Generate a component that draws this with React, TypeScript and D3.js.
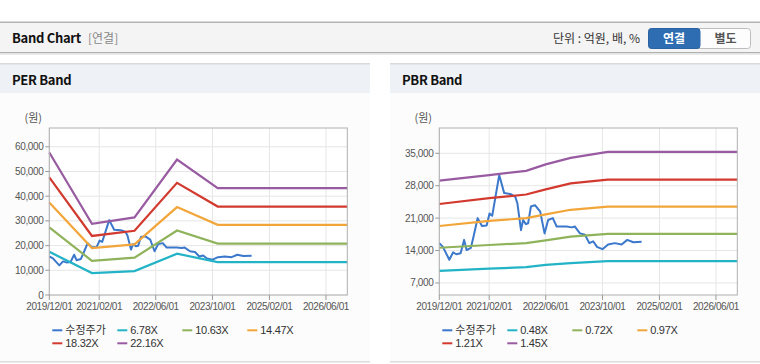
import React from "react";
import * as d3 from "d3";

// ---- data ----
const xTickDates = ["2019-12-01", "2021-02-01", "2022-06-01", "2023-10-01", "2025-02-01", "2026-06-01"];

const priceDates = [
  "2019-12-01", "2020-01-01", "2020-02-25", "2020-03-28", "2020-04-25", "2020-06-01", "2020-07-01",
  "2020-07-22", "2020-08-28", "2020-09-18", "2020-10-25", "2020-12-01", "2021-01-10", "2021-02-04",
  "2021-02-27", "2021-04-28", "2021-06-10", "2021-08-05", "2021-09-13", "2021-10-01", "2021-11-01",
  "2021-11-19", "2021-12-13", "2022-01-01", "2022-01-25", "2022-03-01", "2022-04-15", "2022-05-22",
  "2022-06-22", "2022-08-01", "2022-09-03", "2022-11-28", "2023-01-10", "2023-02-05", "2023-03-22",
  "2023-05-04", "2023-06-10", "2023-07-13", "2023-08-15", "2023-10-01", "2023-11-18", "2024-01-15",
  "2024-03-13", "2024-05-01", "2024-06-22", "2024-09-01",
];
const priceValues = [
  15600, 14800, 12000, 13600, 13200, 13400, 16300,
  14100, 14600, 16800, 21000, 19300, 19400, 22000,
  21500, 30300, 26400, 26200, 25600, 24200, 18400,
  20600, 19700, 19900, 23500, 23800, 22400, 17700,
  20600, 21000, 19200, 19200, 19000, 19200, 17700,
  17400, 15600, 16000, 14800, 14300, 15300, 15600,
  15300, 16300, 15800, 15900,
];

const perDates = ["2019-12-01", "2020-12-01", "2021-12-01", "2022-12-01", "2023-11-15", "2026-12-01"];
const per678 = [17500, 8900, 9700, 16700, 13300, 13300];
const per1063 = [27400, 13800, 15100, 26100, 20800, 20800];
const per1447 = [37400, 19000, 20500, 35600, 28400, 28400];
const per1832 = [47600, 23900, 26000, 45400, 35800, 35800];
const per2216 = [57700, 28800, 31400, 54800, 43300, 43300];
const perLabels = ["수정주가", "6.78X", "10.63X", "14.47X", "18.32X", "22.16X"];
const perTicks = [0, 10000, 20000, 30000, 40000, 50000, 60000];

const pbrDates = ["2019-12-01", "2021-02-01", "2021-12-15", "2022-06-01", "2023-01-01", "2023-11-15", "2026-12-01"];
const pbr048 = [9600, 10100, 10400, 10900, 11300, 11700, 11700];
const pbr072 = [14600, 15200, 15600, 16200, 17000, 17600, 17600];
const pbr097 = [19300, 20400, 21000, 21800, 22800, 23500, 23500];
const pbr121 = [24050, 25300, 26100, 27200, 28500, 29300, 29300];
const pbr145 = [29100, 30300, 31200, 32600, 34000, 35300, 35300];
const pbrLabels = ["수정주가", "0.48X", "0.72X", "0.97X", "1.21X", "1.45X"];
const pbrTicks = [7000, 14000, 21000, 28000, 35000];

const colors = ["#3b78cc", "#22b3c6", "#8fb35a", "#f2a63a", "#d23a2f", "#985aa0"];

const parse = d3.timeParse("%Y-%m-%d");
const fmtDate = d3.timeFormat("%Y/%m/%d");
const fmtNum = d3.format(",");

const KR = "'Noto Sans CJK KR', 'Noto Sans', sans-serif";
const AX = "'Liberation Sans', Arial, sans-serif";

const plotL = 49.3, plotW = 298, plotT = 128, plotB = 295;

type PanelProps = {
  x0: number;
  title: string;
  yDomain: [number, number];
  yTicks: number[];
  bandDates: string[];
  bands: number[][];
  labels: string[];
};

const Panel = ({ x0, title, yDomain, yTicks, bandDates, bands, labels }: PanelProps) => {
  const x = d3.scaleTime()
    .domain([parse("2019-12-01")!, parse("2026-12-01")!])
    .range([x0 + plotL, x0 + plotL + plotW]);
  const y = d3.scaleLinear().domain(yDomain).range([plotB, plotT]);

  const line = d3.line<[Date, number]>()
    .x((d) => x(d[0]))
    .y((d) => y(d[1]));

  const pricePts: [Date, number][] = priceDates.map((d, i) => [parse(d)!, priceValues[i]]);
  const bandPts = bands.map((vals) => bandDates.map((d, i) => [parse(d)!, vals[i]] as [Date, number]));
  const xt = xTickDates.map((d) => parse(d)!);
  const L = x0 + plotL, R = x0 + plotL + plotW;

  return (
    <g>
      {/* panel header */}
      <rect x={x0} y={63.5} width={370} height={29.5} fill="#eef2f7" />
      <rect x={x0} y={63} width={370} height={1.5} fill="#d9d9d9" />
      <text x={x0 + 12} y={80} dy="0.35em" fontFamily={KR} fontWeight="bold" fontSize={13} fill="#111" letterSpacing="-0.3">
        {title}
      </text>
      {/* panel body */}
      <rect x={x0} y={93} width={370} height={268} fill="#fcfcfc" />
      <rect x={x0} y={361} width={370} height={1.5} fill="#dcdcdc" />
      <rect x={L} y={plotT} width={plotW} height={plotB - plotT} fill="#fff" />

      {/* grid */}
      {xt.map((d, i) => (
        <line key={"gx" + i} x1={x(d)} x2={x(d)} y1={plotT} y2={plotB} stroke="#e6e6e6" />
      ))}
      {yTicks.map((v) => (
        <line key={"gy" + v} x1={L} x2={R} y1={y(v)} y2={y(v)} stroke="#e6e6e6" />
      ))}

      {/* series */}
      <path d={line(pricePts) || ""} fill="none" stroke={colors[0]} strokeWidth={2} strokeLinejoin="round" />
      {bandPts.map((pts, i) => (
        <path key={"b" + i} d={line(pts) || ""} fill="none" stroke={colors[i + 1]} strokeWidth={2.2} />
      ))}

      {/* frame */}
      <rect x={L} y={plotT} width={plotW} height={plotB - plotT} fill="none" stroke="#b0b0b0" />

      {/* y axis */}
      <text x={L - 16} y={118} dy="0.35em" textAnchor="middle" fontFamily={KR} fontSize={11} fill="#555">
        (원)
      </text>
      {yTicks.map((v) => (
        <g key={"yt" + v}>
          <line x1={L - 4} x2={L} y1={y(v)} y2={y(v)} stroke="#999" />
          <text x={L - 6} y={y(v)} dy="0.35em" textAnchor="end" fontFamily={AX} fontSize={10} fill="#555" letterSpacing="-0.4">
            {fmtNum(v)}
          </text>
        </g>
      ))}

      {/* x axis */}
      {xt.map((d, i) => (
        <g key={"xt" + i}>
          <line x1={x(d)} x2={x(d)} y1={plotB} y2={plotB + 5} stroke="#999" />
          <text x={x(d)} y={306.7} dy="0.35em" textAnchor="middle" fontFamily={AX} fontSize={10} fill="#555" letterSpacing="-0.4">
            {fmtDate(d)}
          </text>
        </g>
      ))}

      {/* legend */}
      {labels.map((lab, i) => {
        const lx = L + 3 + (i % 4) * 65;
        const ly = 330.3 + Math.floor(i / 4) * 13;
        return (
          <g key={"lg" + i}>
            <line x1={lx} x2={lx + 10} y1={ly} y2={ly} stroke={colors[i]} strokeWidth={2} />
            <text x={lx + 13} y={ly} dy="0.35em" fontFamily={i === 0 ? KR : AX} fontSize={11} fill="#333" letterSpacing={i === 0 ? "0" : "-0.3"}>
              {lab}
            </text>
          </g>
        );
      })}
    </g>
  );
};

export default function App() {
  return (
    <svg width={760} height={364} style={{ position: "absolute", left: 0, top: 0 }}>
      <rect width={760} height={364} fill="#fff" />

      {/* top header bar */}
      <rect x={0} y={22} width={760} height={31} fill="#f4f4f4" />
      <rect x={0} y={21.5} width={760} height={1.5} fill="#b4b4b4" />
      <rect x={0} y={52} width={760} height={1.2} fill="#b0b0b0" />
      <rect x={0} y={53.2} width={760} height={1.5} fill="#e2e2e2" />
      <text x={12} y={38.5} dy="0.35em" fontFamily={KR} fontWeight="bold" fontSize={13} fill="#111" letterSpacing="-0.3">
        Band Chart
      </text>
      <text x={88} y={38.5} dy="0.35em" fontFamily={KR} fontSize={12} fill="#888">
        [연결]
      </text>
      <text x={640} y={38.5} dy="0.35em" textAnchor="end" fontFamily={KR} fontSize={12} fill="#333">
        단위 : 억원, 배, %
      </text>
      <rect x={648.5} y={28.5} width={102} height={20} rx={3} fill="#fdfdfd" stroke="#bdbdbd" />
      <rect x={648.5} y={28.5} width={51.5} height={20} rx={3} fill="#2f6db2" stroke="#2a62a3" />
      <rect x={692} y={29} width={8} height={19} fill="#2f6db2" />
      <text x={674} y={38.5} dy="0.35em" textAnchor="middle" fontFamily={KR} fontWeight="bold" fontSize={12} fill="#fff">
        연결
      </text>
      <text x={725.5} y={38.5} dy="0.35em" textAnchor="middle" fontFamily={KR} fontWeight="bold" fontSize={12} fill="#555">
        별도
      </text>

      <Panel
        x0={0}
        title="PER Band"
        yDomain={[0, 67600]}
        yTicks={perTicks}
        bandDates={perDates}
        bands={[per678, per1063, per1447, per1832, per2216]}
        labels={perLabels}
      />
      <Panel
        x0={390}
        title="PBR Band"
        yDomain={[4400, 40460]}
        yTicks={pbrTicks}
        bandDates={pbrDates}
        bands={[pbr048, pbr072, pbr097, pbr121, pbr145]}
        labels={pbrLabels}
      />
    </svg>
  );
}
